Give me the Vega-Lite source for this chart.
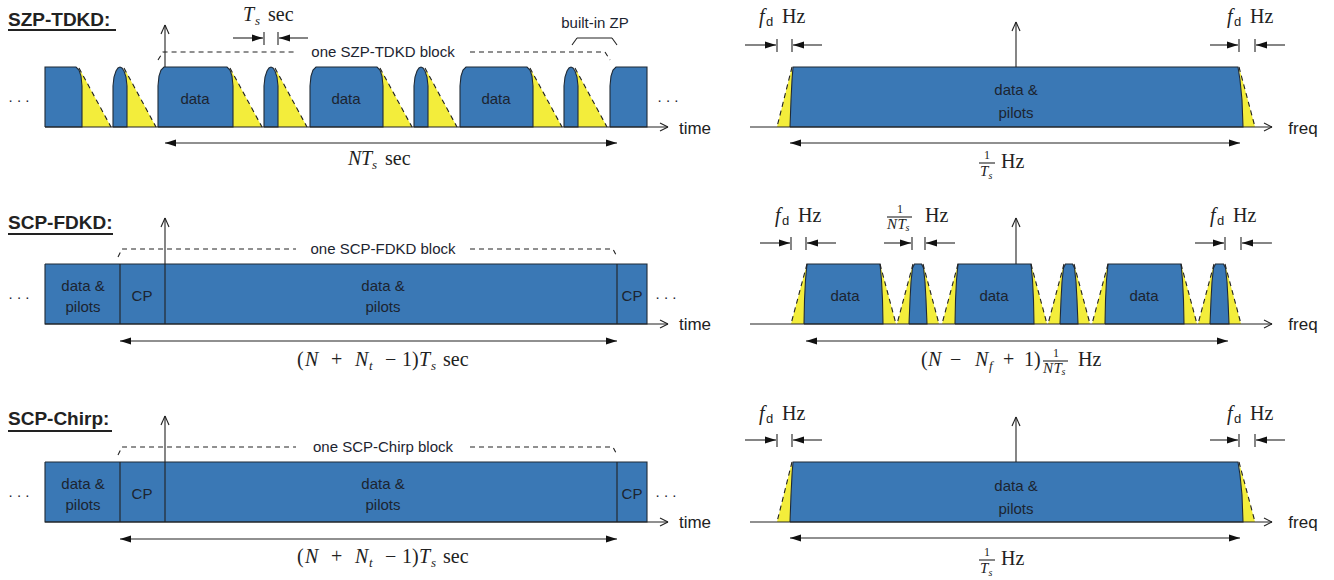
{
"$schema":"https://vega.github.io/schema/vega-lite/v6.json",
"width":1334,"height":580,"padding":0,
"autosize":{"type":"fit","contains":"padding"},
"background":"#ffffff",
"config":{"view":{"stroke":null}},
"datasets":{
"yel":[
{"id":"p1a","o":1,"x":79,"y":68},{"id":"p1a","o":2,"x":111,"y":127},{"id":"p1a","o":3,"x":82,"y":127},{"id":"p1a","o":4,"x":82,"y":86},{"id":"p1a","o":5,"x":81,"y":76},
{"id":"p1b","o":1,"x":124,"y":68},{"id":"p1b","o":2,"x":156,"y":127},{"id":"p1b","o":3,"x":127,"y":127},{"id":"p1b","o":4,"x":127,"y":86},{"id":"p1b","o":5,"x":126,"y":77},
{"id":"p1c","o":1,"x":230,"y":68},{"id":"p1c","o":2,"x":262,"y":127},{"id":"p1c","o":3,"x":233,"y":127},{"id":"p1c","o":4,"x":233,"y":86},{"id":"p1c","o":5,"x":232,"y":76},
{"id":"p1d","o":1,"x":275,"y":68},{"id":"p1d","o":2,"x":307,"y":127},{"id":"p1d","o":3,"x":278,"y":127},{"id":"p1d","o":4,"x":278,"y":86},{"id":"p1d","o":5,"x":277,"y":77},
{"id":"p1e","o":1,"x":380,"y":68},{"id":"p1e","o":2,"x":412,"y":127},{"id":"p1e","o":3,"x":383,"y":127},{"id":"p1e","o":4,"x":383,"y":86},{"id":"p1e","o":5,"x":382,"y":76},
{"id":"p1f","o":1,"x":425,"y":68},{"id":"p1f","o":2,"x":457,"y":127},{"id":"p1f","o":3,"x":428,"y":127},{"id":"p1f","o":4,"x":428,"y":86},{"id":"p1f","o":5,"x":427,"y":77},
{"id":"p1g","o":1,"x":530,"y":68},{"id":"p1g","o":2,"x":562,"y":127},{"id":"p1g","o":3,"x":533,"y":127},{"id":"p1g","o":4,"x":533,"y":86},{"id":"p1g","o":5,"x":532,"y":76},
{"id":"p1h","o":1,"x":575,"y":68},{"id":"p1h","o":2,"x":607,"y":127},{"id":"p1h","o":3,"x":578,"y":127},{"id":"p1h","o":4,"x":578,"y":86},{"id":"p1h","o":5,"x":577,"y":77},
{"id":"p2a","o":1,"x":792,"y":67},{"id":"p2a","o":2,"x":777,"y":127},{"id":"p2a","o":3,"x":790,"y":127},{"id":"p2a","o":4,"x":791,"y":100},{"id":"p2a","o":5,"x":792,"y":80},
{"id":"p2b","o":1,"x":1239,"y":67},{"id":"p2b","o":2,"x":1255,"y":127},{"id":"p2b","o":3,"x":1243,"y":127},{"id":"p2b","o":4,"x":1242,"y":100},{"id":"p2b","o":5,"x":1240,"y":80},
{"id":"p6a","o":1,"x":792,"y":462},{"id":"p6a","o":2,"x":777,"y":522},{"id":"p6a","o":3,"x":790,"y":522},{"id":"p6a","o":4,"x":791,"y":495},{"id":"p6a","o":5,"x":792,"y":475},
{"id":"p6b","o":1,"x":1239,"y":462},{"id":"p6b","o":2,"x":1255,"y":522},{"id":"p6b","o":3,"x":1243,"y":522},{"id":"p6b","o":4,"x":1242,"y":495},{"id":"p6b","o":5,"x":1240,"y":475},
{"id":"AL","o":1,"x":807,"y":264},{"id":"AL","o":2,"x":791,"y":324},{"id":"AL","o":3,"x":804,"y":324},{"id":"AL","o":4,"x":804.5,"y":300},{"id":"AL","o":5,"x":805.5,"y":280},
{"id":"AR","o":1,"x":880,"y":264},{"id":"AR","o":2,"x":896,"y":324},{"id":"AR","o":3,"x":883,"y":324},{"id":"AR","o":4,"x":882.5,"y":300},{"id":"AR","o":5,"x":881.5,"y":280},
{"id":"BL","o":1,"x":913,"y":264},{"id":"BL","o":2,"x":897,"y":324},{"id":"BL","o":3,"x":909,"y":324},{"id":"BL","o":4,"x":910,"y":300},{"id":"BL","o":5,"x":911,"y":282},
{"id":"BR","o":1,"x":923,"y":264},{"id":"BR","o":2,"x":939,"y":324},{"id":"BR","o":3,"x":927,"y":324},{"id":"BR","o":4,"x":926,"y":300},{"id":"BR","o":5,"x":925,"y":282},
{"id":"CL","o":1,"x":958,"y":264},{"id":"CL","o":2,"x":942,"y":324},{"id":"CL","o":3,"x":955,"y":324},{"id":"CL","o":4,"x":955.5,"y":300},{"id":"CL","o":5,"x":956.5,"y":280},
{"id":"CR","o":1,"x":1031,"y":264},{"id":"CR","o":2,"x":1047,"y":324},{"id":"CR","o":3,"x":1034,"y":324},{"id":"CR","o":4,"x":1033.5,"y":300},{"id":"CR","o":5,"x":1032.5,"y":280},
{"id":"DL","o":1,"x":1064,"y":264},{"id":"DL","o":2,"x":1048,"y":324},{"id":"DL","o":3,"x":1060,"y":324},{"id":"DL","o":4,"x":1061,"y":300},{"id":"DL","o":5,"x":1062,"y":282},
{"id":"DR","o":1,"x":1074,"y":264},{"id":"DR","o":2,"x":1090,"y":324},{"id":"DR","o":3,"x":1078,"y":324},{"id":"DR","o":4,"x":1077,"y":300},{"id":"DR","o":5,"x":1076,"y":282},
{"id":"EL","o":1,"x":1108,"y":264},{"id":"EL","o":2,"x":1092,"y":324},{"id":"EL","o":3,"x":1105,"y":324},{"id":"EL","o":4,"x":1105.5,"y":300},{"id":"EL","o":5,"x":1106.5,"y":280},
{"id":"ER","o":1,"x":1181,"y":264},{"id":"ER","o":2,"x":1197,"y":324},{"id":"ER","o":3,"x":1184,"y":324},{"id":"ER","o":4,"x":1183.5,"y":300},{"id":"ER","o":5,"x":1182.5,"y":280},
{"id":"FL","o":1,"x":1214,"y":264},{"id":"FL","o":2,"x":1198,"y":324},{"id":"FL","o":3,"x":1210,"y":324},{"id":"FL","o":4,"x":1211,"y":300},{"id":"FL","o":5,"x":1212,"y":282},
{"id":"FR","o":1,"x":1225,"y":264},{"id":"FR","o":2,"x":1241,"y":324},{"id":"FR","o":3,"x":1229,"y":324},{"id":"FR","o":4,"x":1228,"y":300},{"id":"FR","o":5,"x":1227,"y":282}
],
"blu":[
{"id":"b0","o":1,"x":45,"y":127},{"id":"b0","o":2,"x":45,"y":67},{"id":"b0","o":3,"x":76,"y":67},{"id":"b0","o":4,"x":79,"y":70},{"id":"b0","o":5,"x":81,"y":76},{"id":"b0","o":6,"x":82,"y":86},{"id":"b0","o":7,"x":82,"y":127},{"id":"b0","o":8,"x":45,"y":127},
{"id":"b1","o":1,"x":113,"y":127},{"id":"b1","o":2,"x":113,"y":86},{"id":"b1","o":3,"x":114,"y":77},{"id":"b1","o":4,"x":116,"y":71},{"id":"b1","o":5,"x":118,"y":68},{"id":"b1","o":6,"x":120,"y":67},{"id":"b1","o":7,"x":122,"y":68},{"id":"b1","o":8,"x":124,"y":71},{"id":"b1","o":9,"x":126,"y":77},{"id":"b1","o":10,"x":127,"y":86},{"id":"b1","o":11,"x":127,"y":127},{"id":"b1","o":12,"x":113,"y":127},
{"id":"b2","o":1,"x":158,"y":127},{"id":"b2","o":2,"x":158,"y":86},{"id":"b2","o":3,"x":159,"y":76},{"id":"b2","o":4,"x":161,"y":70},{"id":"b2","o":5,"x":164,"y":67},{"id":"b2","o":6,"x":227,"y":67},{"id":"b2","o":7,"x":230,"y":70},{"id":"b2","o":8,"x":232,"y":76},{"id":"b2","o":9,"x":233,"y":86},{"id":"b2","o":10,"x":233,"y":127},{"id":"b2","o":11,"x":158,"y":127},
{"id":"b3","o":1,"x":264,"y":127},{"id":"b3","o":2,"x":264,"y":86},{"id":"b3","o":3,"x":265,"y":77},{"id":"b3","o":4,"x":267,"y":71},{"id":"b3","o":5,"x":269,"y":68},{"id":"b3","o":6,"x":271,"y":67},{"id":"b3","o":7,"x":273,"y":68},{"id":"b3","o":8,"x":275,"y":71},{"id":"b3","o":9,"x":277,"y":77},{"id":"b3","o":10,"x":278,"y":86},{"id":"b3","o":11,"x":278,"y":127},{"id":"b3","o":12,"x":264,"y":127},
{"id":"b4","o":1,"x":310,"y":127},{"id":"b4","o":2,"x":310,"y":86},{"id":"b4","o":3,"x":311,"y":76},{"id":"b4","o":4,"x":313,"y":70},{"id":"b4","o":5,"x":316,"y":67},{"id":"b4","o":6,"x":377,"y":67},{"id":"b4","o":7,"x":380,"y":70},{"id":"b4","o":8,"x":382,"y":76},{"id":"b4","o":9,"x":383,"y":86},{"id":"b4","o":10,"x":383,"y":127},{"id":"b4","o":11,"x":310,"y":127},
{"id":"b5","o":1,"x":414,"y":127},{"id":"b5","o":2,"x":414,"y":86},{"id":"b5","o":3,"x":415,"y":77},{"id":"b5","o":4,"x":417,"y":71},{"id":"b5","o":5,"x":419,"y":68},{"id":"b5","o":6,"x":421,"y":67},{"id":"b5","o":7,"x":423,"y":68},{"id":"b5","o":8,"x":425,"y":71},{"id":"b5","o":9,"x":427,"y":77},{"id":"b5","o":10,"x":428,"y":86},{"id":"b5","o":11,"x":428,"y":127},{"id":"b5","o":12,"x":414,"y":127},
{"id":"b6","o":1,"x":460,"y":127},{"id":"b6","o":2,"x":460,"y":86},{"id":"b6","o":3,"x":461,"y":76},{"id":"b6","o":4,"x":463,"y":70},{"id":"b6","o":5,"x":466,"y":67},{"id":"b6","o":6,"x":527,"y":67},{"id":"b6","o":7,"x":530,"y":70},{"id":"b6","o":8,"x":532,"y":76},{"id":"b6","o":9,"x":533,"y":86},{"id":"b6","o":10,"x":533,"y":127},{"id":"b6","o":11,"x":460,"y":127},
{"id":"b7","o":1,"x":564,"y":127},{"id":"b7","o":2,"x":564,"y":86},{"id":"b7","o":3,"x":565,"y":77},{"id":"b7","o":4,"x":567,"y":71},{"id":"b7","o":5,"x":569,"y":68},{"id":"b7","o":6,"x":571,"y":67},{"id":"b7","o":7,"x":573,"y":68},{"id":"b7","o":8,"x":575,"y":71},{"id":"b7","o":9,"x":577,"y":77},{"id":"b7","o":10,"x":578,"y":86},{"id":"b7","o":11,"x":578,"y":127},{"id":"b7","o":12,"x":564,"y":127},
{"id":"b8","o":1,"x":610,"y":127},{"id":"b8","o":2,"x":610,"y":86},{"id":"b8","o":3,"x":611,"y":76},{"id":"b8","o":4,"x":613,"y":70},{"id":"b8","o":5,"x":616,"y":67},{"id":"b8","o":6,"x":647,"y":67},{"id":"b8","o":7,"x":647,"y":127},{"id":"b8","o":8,"x":610,"y":127},
{"id":"c2","o":1,"x":790,"y":127},{"id":"c2","o":2,"x":791,"y":100},{"id":"c2","o":3,"x":792,"y":80},{"id":"c2","o":4,"x":793,"y":67},{"id":"c2","o":5,"x":1238,"y":67},{"id":"c2","o":6,"x":1240,"y":80},{"id":"c2","o":7,"x":1242,"y":100},{"id":"c2","o":8,"x":1243,"y":127},{"id":"c2","o":9,"x":790,"y":127},
{"id":"c6","o":1,"x":790,"y":522},{"id":"c6","o":2,"x":791,"y":495},{"id":"c6","o":3,"x":792,"y":475},{"id":"c6","o":4,"x":793,"y":462},{"id":"c6","o":5,"x":1238,"y":462},{"id":"c6","o":6,"x":1240,"y":475},{"id":"c6","o":7,"x":1242,"y":495},{"id":"c6","o":8,"x":1243,"y":522},{"id":"c6","o":9,"x":790,"y":522},
{"id":"r3","o":1,"x":45,"y":264},{"id":"r3","o":2,"x":647,"y":264},{"id":"r3","o":3,"x":647,"y":324},{"id":"r3","o":4,"x":45,"y":324},{"id":"r3","o":5,"x":45,"y":264},
{"id":"r5","o":1,"x":45,"y":462},{"id":"r5","o":2,"x":647,"y":462},{"id":"r5","o":3,"x":647,"y":522},{"id":"r5","o":4,"x":45,"y":522},{"id":"r5","o":5,"x":45,"y":462},
{"id":"A","o":1,"x":804,"y":324},{"id":"A","o":2,"x":804.5,"y":300},{"id":"A","o":3,"x":805.5,"y":280},{"id":"A","o":4,"x":807,"y":264},{"id":"A","o":5,"x":880,"y":264},{"id":"A","o":6,"x":881.5,"y":280},{"id":"A","o":7,"x":882.5,"y":300},{"id":"A","o":8,"x":883,"y":324},{"id":"A","o":9,"x":804,"y":324},
{"id":"B","o":1,"x":909,"y":324},{"id":"B","o":2,"x":910,"y":300},{"id":"B","o":3,"x":911,"y":282},{"id":"B","o":4,"x":912.5,"y":268},{"id":"B","o":5,"x":914.5,"y":264},{"id":"B","o":6,"x":921.5,"y":264},{"id":"B","o":7,"x":923.5,"y":268},{"id":"B","o":8,"x":925,"y":282},{"id":"B","o":9,"x":926,"y":300},{"id":"B","o":10,"x":927,"y":324},{"id":"B","o":11,"x":909,"y":324},
{"id":"C","o":1,"x":955,"y":324},{"id":"C","o":2,"x":955.5,"y":300},{"id":"C","o":3,"x":956.5,"y":280},{"id":"C","o":4,"x":958,"y":264},{"id":"C","o":5,"x":1031,"y":264},{"id":"C","o":6,"x":1032.5,"y":280},{"id":"C","o":7,"x":1033.5,"y":300},{"id":"C","o":8,"x":1034,"y":324},{"id":"C","o":9,"x":955,"y":324},
{"id":"D","o":1,"x":1060,"y":324},{"id":"D","o":2,"x":1061,"y":300},{"id":"D","o":3,"x":1062,"y":282},{"id":"D","o":4,"x":1063.5,"y":268},{"id":"D","o":5,"x":1065.5,"y":264},{"id":"D","o":6,"x":1072.5,"y":264},{"id":"D","o":7,"x":1074.5,"y":268},{"id":"D","o":8,"x":1076,"y":282},{"id":"D","o":9,"x":1077,"y":300},{"id":"D","o":10,"x":1078,"y":324},{"id":"D","o":11,"x":1060,"y":324},
{"id":"E","o":1,"x":1105,"y":324},{"id":"E","o":2,"x":1105.5,"y":300},{"id":"E","o":3,"x":1106.5,"y":280},{"id":"E","o":4,"x":1108,"y":264},{"id":"E","o":5,"x":1181,"y":264},{"id":"E","o":6,"x":1182.5,"y":280},{"id":"E","o":7,"x":1183.5,"y":300},{"id":"E","o":8,"x":1184,"y":324},{"id":"E","o":9,"x":1105,"y":324},
{"id":"F","o":1,"x":1210,"y":324},{"id":"F","o":2,"x":1211,"y":300},{"id":"F","o":3,"x":1212,"y":282},{"id":"F","o":4,"x":1213.5,"y":268},{"id":"F","o":5,"x":1215.5,"y":264},{"id":"F","o":6,"x":1223.5,"y":264},{"id":"F","o":7,"x":1225.5,"y":268},{"id":"F","o":8,"x":1227,"y":282},{"id":"F","o":9,"x":1228,"y":300},{"id":"F","o":10,"x":1229,"y":324},{"id":"F","o":11,"x":1210,"y":324}
],
"dash":[
{"id":"t1l","o":1,"x":158,"y":60},{"id":"t1l","o":2,"x":163,"y":52},{"id":"t1l","o":3,"x":296,"y":52},
{"id":"t1r","o":1,"x":470,"y":52},{"id":"t1r","o":2,"x":605,"y":52},{"id":"t1r","o":3,"x":610,"y":60},
{"id":"t3l","o":1,"x":118,"y":257},{"id":"t3l","o":2,"x":122,"y":249},{"id":"t3l","o":3,"x":296,"y":249},
{"id":"t3r","o":1,"x":470,"y":249},{"id":"t3r","o":2,"x":613,"y":249},{"id":"t3r","o":3,"x":617,"y":257},
{"id":"t5l","o":1,"x":118,"y":455},{"id":"t5l","o":2,"x":122,"y":447},{"id":"t5l","o":3,"x":296,"y":447},
{"id":"t5r","o":1,"x":470,"y":447},{"id":"t5r","o":2,"x":613,"y":447},{"id":"t5r","o":3,"x":617,"y":455},
{"id":"s1","o":1,"x":79,"y":68},{"id":"s1","o":2,"x":111,"y":127},
{"id":"s2","o":1,"x":124,"y":68},{"id":"s2","o":2,"x":156,"y":127},
{"id":"s3","o":1,"x":230,"y":68},{"id":"s3","o":2,"x":262,"y":127},
{"id":"s4","o":1,"x":275,"y":68},{"id":"s4","o":2,"x":307,"y":127},
{"id":"s5","o":1,"x":380,"y":68},{"id":"s5","o":2,"x":412,"y":127},
{"id":"s6","o":1,"x":425,"y":68},{"id":"s6","o":2,"x":457,"y":127},
{"id":"s7","o":1,"x":530,"y":68},{"id":"s7","o":2,"x":562,"y":127},
{"id":"s8","o":1,"x":575,"y":68},{"id":"s8","o":2,"x":607,"y":127},
{"id":"q1","o":1,"x":792,"y":67},{"id":"q1","o":2,"x":777,"y":127},
{"id":"q2","o":1,"x":1239,"y":67},{"id":"q2","o":2,"x":1255,"y":127},
{"id":"q3","o":1,"x":792,"y":462},{"id":"q3","o":2,"x":777,"y":522},
{"id":"q4","o":1,"x":1239,"y":462},{"id":"q4","o":2,"x":1255,"y":522},
{"id":"u1","o":1,"x":807,"y":264},{"id":"u1","o":2,"x":791,"y":324},
{"id":"u2","o":1,"x":880,"y":264},{"id":"u2","o":2,"x":896,"y":324},
{"id":"u3","o":1,"x":913,"y":264},{"id":"u3","o":2,"x":897,"y":324},
{"id":"u4","o":1,"x":923,"y":264},{"id":"u4","o":2,"x":939,"y":324},
{"id":"u5","o":1,"x":958,"y":264},{"id":"u5","o":2,"x":942,"y":324},
{"id":"u6","o":1,"x":1031,"y":264},{"id":"u6","o":2,"x":1047,"y":324},
{"id":"u7","o":1,"x":1064,"y":264},{"id":"u7","o":2,"x":1048,"y":324},
{"id":"u8","o":1,"x":1074,"y":264},{"id":"u8","o":2,"x":1090,"y":324},
{"id":"u9","o":1,"x":1108,"y":264},{"id":"u9","o":2,"x":1092,"y":324},
{"id":"u10","o":1,"x":1181,"y":264},{"id":"u10","o":2,"x":1197,"y":324},
{"id":"u11","o":1,"x":1214,"y":264},{"id":"u11","o":2,"x":1198,"y":324},
{"id":"u12","o":1,"x":1225,"y":264},{"id":"u12","o":2,"x":1241,"y":324}
],
"seg":[
{"x":45,"y":127,"x2":668,"y2":127},{"x":660,"y":123,"x2":668,"y2":127},{"x":660,"y":131,"x2":668,"y2":127},
{"x":165,"y":67,"x2":165,"y2":25},{"x":161,"y":34,"x2":165,"y2":25},{"x":169,"y":34,"x2":165,"y2":25},
{"x":233,"y":38,"x2":263,"y2":38},{"x":264,"y":32,"x2":264,"y2":45},{"x":278,"y":32,"x2":278,"y2":45},{"x":279,"y":38,"x2":308,"y2":38},
{"x":165,"y":143,"x2":617,"y2":143},
{"x":572,"y":45,"x2":577,"y2":38},{"x":577,"y":38,"x2":612,"y2":38},{"x":612,"y":38,"x2":617,"y2":45},
{"x":750,"y":127,"x2":1272,"y2":127},{"x":1264,"y":123,"x2":1272,"y2":127},{"x":1264,"y":131,"x2":1272,"y2":127},
{"x":1016,"y":67,"x2":1016,"y2":22},{"x":1012,"y":31,"x2":1016,"y2":22},{"x":1020,"y":31,"x2":1016,"y2":22},
{"x":745,"y":45,"x2":776,"y2":45},{"x":777,"y":39,"x2":777,"y2":52},{"x":792,"y":39,"x2":792,"y2":52},{"x":793,"y":45,"x2":822,"y2":45},
{"x":1210,"y":45,"x2":1238,"y2":45},{"x":1239,"y":39,"x2":1239,"y2":52},{"x":1255,"y":39,"x2":1255,"y2":52},{"x":1256,"y":45,"x2":1285,"y2":45},
{"x":790,"y":143,"x2":1240,"y2":143},
{"x":979,"y":163,"x2":995,"y2":163},
{"x":120,"y":264,"x2":120,"y2":324},{"x":617,"y":264,"x2":617,"y2":324},
{"x":165,"y":324,"x2":165,"y2":218},{"x":161,"y":227,"x2":165,"y2":218},{"x":169,"y":227,"x2":165,"y2":218},
{"x":45,"y":324,"x2":668,"y2":324},{"x":660,"y":320,"x2":668,"y2":324},{"x":660,"y":328,"x2":668,"y2":324},
{"x":120,"y":341,"x2":617,"y2":341},
{"x":750,"y":324,"x2":1272,"y2":324},{"x":1264,"y":320,"x2":1272,"y2":324},{"x":1264,"y":328,"x2":1272,"y2":324},
{"x":1016,"y":264,"x2":1016,"y2":218},{"x":1012,"y":227,"x2":1016,"y2":218},{"x":1020,"y":227,"x2":1016,"y2":218},
{"x":760,"y":243,"x2":790,"y2":243},{"x":791,"y":237,"x2":791,"y2":250},{"x":806,"y":237,"x2":806,"y2":250},{"x":807,"y":243,"x2":836,"y2":243},
{"x":884,"y":243,"x2":911,"y2":243},{"x":912,"y":237,"x2":912,"y2":250},{"x":925,"y":237,"x2":925,"y2":250},{"x":926,"y":243,"x2":955,"y2":243},
{"x":1195,"y":243,"x2":1224,"y2":243},{"x":1225,"y":237,"x2":1225,"y2":250},{"x":1241,"y":237,"x2":1241,"y2":250},{"x":1242,"y":243,"x2":1272,"y2":243},
{"x":806,"y":341,"x2":1228,"y2":341},
{"x":887,"y":217,"x2":912,"y2":217},
{"x":1043,"y":361,"x2":1068,"y2":361},
{"x":120,"y":462,"x2":120,"y2":522},{"x":617,"y":462,"x2":617,"y2":522},
{"x":165,"y":522,"x2":165,"y2":416},{"x":161,"y":425,"x2":165,"y2":416},{"x":169,"y":425,"x2":165,"y2":416},
{"x":45,"y":522,"x2":668,"y2":522},{"x":660,"y":518,"x2":668,"y2":522},{"x":660,"y":526,"x2":668,"y2":522},
{"x":120,"y":539,"x2":617,"y2":539},
{"x":750,"y":522,"x2":1272,"y2":522},{"x":1264,"y":518,"x2":1272,"y2":522},{"x":1264,"y":526,"x2":1272,"y2":522},
{"x":1016,"y":462,"x2":1016,"y2":417},{"x":1012,"y":426,"x2":1016,"y2":417},{"x":1020,"y":426,"x2":1016,"y2":417},
{"x":745,"y":440,"x2":776,"y2":440},{"x":777,"y":434,"x2":777,"y2":447},{"x":792,"y":434,"x2":792,"y2":447},{"x":793,"y":440,"x2":822,"y2":440},
{"x":1210,"y":440,"x2":1238,"y2":440},{"x":1239,"y":434,"x2":1239,"y2":447},{"x":1255,"y":434,"x2":1255,"y2":447},{"x":1256,"y":440,"x2":1285,"y2":440},
{"x":790,"y":538,"x2":1240,"y2":538},
{"x":979,"y":560,"x2":995,"y2":560}
],
"uline":[
{"x":8,"y":30,"x2":116,"y2":30},{"x":8,"y":234,"x2":113,"y2":234},{"x":8,"y":431,"x2":112,"y2":431}
],
"head":[
{"id":"h1","o":1,"x":252,"y":34.5},{"id":"h1","o":2,"x":263,"y":38},{"id":"h1","o":3,"x":252,"y":41.5},
{"id":"h2","o":1,"x":290,"y":34.5},{"id":"h2","o":2,"x":279,"y":38},{"id":"h2","o":3,"x":290,"y":41.5},
{"id":"h3","o":1,"x":176,"y":139.5},{"id":"h3","o":2,"x":165,"y":143},{"id":"h3","o":3,"x":176,"y":146.5},
{"id":"h4","o":1,"x":606,"y":139.5},{"id":"h4","o":2,"x":617,"y":143},{"id":"h4","o":3,"x":606,"y":146.5},
{"id":"h5","o":1,"x":765,"y":41.5},{"id":"h5","o":2,"x":776,"y":45},{"id":"h5","o":3,"x":765,"y":48.5},
{"id":"h6","o":1,"x":804,"y":41.5},{"id":"h6","o":2,"x":793,"y":45},{"id":"h6","o":3,"x":804,"y":48.5},
{"id":"h7","o":1,"x":1227,"y":41.5},{"id":"h7","o":2,"x":1238,"y":45},{"id":"h7","o":3,"x":1227,"y":48.5},
{"id":"h8","o":1,"x":1267,"y":41.5},{"id":"h8","o":2,"x":1256,"y":45},{"id":"h8","o":3,"x":1267,"y":48.5},
{"id":"h9","o":1,"x":801,"y":139.5},{"id":"h9","o":2,"x":790,"y":143},{"id":"h9","o":3,"x":801,"y":146.5},
{"id":"h10","o":1,"x":1229,"y":139.5},{"id":"h10","o":2,"x":1240,"y":143},{"id":"h10","o":3,"x":1229,"y":146.5},
{"id":"h11","o":1,"x":131,"y":337.5},{"id":"h11","o":2,"x":120,"y":341},{"id":"h11","o":3,"x":131,"y":344.5},
{"id":"h12","o":1,"x":606,"y":337.5},{"id":"h12","o":2,"x":617,"y":341},{"id":"h12","o":3,"x":606,"y":344.5},
{"id":"h13","o":1,"x":779,"y":239.5},{"id":"h13","o":2,"x":790,"y":243},{"id":"h13","o":3,"x":779,"y":246.5},
{"id":"h14","o":1,"x":818,"y":239.5},{"id":"h14","o":2,"x":807,"y":243},{"id":"h14","o":3,"x":818,"y":246.5},
{"id":"h15","o":1,"x":900,"y":239.5},{"id":"h15","o":2,"x":911,"y":243},{"id":"h15","o":3,"x":900,"y":246.5},
{"id":"h16","o":1,"x":937,"y":239.5},{"id":"h16","o":2,"x":926,"y":243},{"id":"h16","o":3,"x":937,"y":246.5},
{"id":"h17","o":1,"x":1213,"y":239.5},{"id":"h17","o":2,"x":1224,"y":243},{"id":"h17","o":3,"x":1213,"y":246.5},
{"id":"h18","o":1,"x":1253,"y":239.5},{"id":"h18","o":2,"x":1242,"y":243},{"id":"h18","o":3,"x":1253,"y":246.5},
{"id":"h19","o":1,"x":817,"y":337.5},{"id":"h19","o":2,"x":806,"y":341},{"id":"h19","o":3,"x":817,"y":344.5},
{"id":"h20","o":1,"x":1217,"y":337.5},{"id":"h20","o":2,"x":1228,"y":341},{"id":"h20","o":3,"x":1217,"y":344.5},
{"id":"h21","o":1,"x":131,"y":535.5},{"id":"h21","o":2,"x":120,"y":539},{"id":"h21","o":3,"x":131,"y":542.5},
{"id":"h22","o":1,"x":606,"y":535.5},{"id":"h22","o":2,"x":617,"y":539},{"id":"h22","o":3,"x":606,"y":542.5},
{"id":"h23","o":1,"x":765,"y":436.5},{"id":"h23","o":2,"x":776,"y":440},{"id":"h23","o":3,"x":765,"y":443.5},
{"id":"h24","o":1,"x":804,"y":436.5},{"id":"h24","o":2,"x":793,"y":440},{"id":"h24","o":3,"x":804,"y":443.5},
{"id":"h25","o":1,"x":1227,"y":436.5},{"id":"h25","o":2,"x":1238,"y":440},{"id":"h25","o":3,"x":1227,"y":443.5},
{"id":"h26","o":1,"x":1267,"y":436.5},{"id":"h26","o":2,"x":1256,"y":440},{"id":"h26","o":3,"x":1267,"y":443.5},
{"id":"h27","o":1,"x":801,"y":534.5},{"id":"h27","o":2,"x":790,"y":538},{"id":"h27","o":3,"x":801,"y":541.5},
{"id":"h28","o":1,"x":1229,"y":534.5},{"id":"h28","o":2,"x":1240,"y":538},{"id":"h28","o":3,"x":1229,"y":541.5}
],
"sans":[
{"x":195,"y":104,"t":"data","r":"lab"},{"x":346,"y":104,"t":"data","r":"lab"},{"x":496,"y":104,"t":"data","r":"lab"},
{"x":19,"y":102,"t":". . .","r":"lab"},{"x":668,"y":102,"t":". . .","r":"lab"},
{"x":383,"y":57,"t":"one SZP-TDKD block","r":"lab"},{"x":595,"y":28,"t":"built-in ZP","r":"lab"},
{"x":695,"y":134,"t":"time","r":"big"},
{"x":1016,"y":95,"t":"data &","r":"lab"},{"x":1016,"y":118,"t":"pilots","r":"lab"},{"x":1303,"y":134,"t":"freq","r":"big"},
{"x":83,"y":291,"t":"data &","r":"lab"},{"x":83,"y":312,"t":"pilots","r":"lab"},{"x":142,"y":301,"t":"CP","r":"lab"},
{"x":383,"y":291,"t":"data &","r":"lab"},{"x":383,"y":312,"t":"pilots","r":"lab"},{"x":632,"y":301,"t":"CP","r":"lab"},
{"x":19,"y":299,"t":". . .","r":"lab"},{"x":666,"y":299,"t":". . .","r":"lab"},
{"x":383,"y":254,"t":"one SCP-FDKD block","r":"lab"},{"x":695,"y":330,"t":"time","r":"big"},
{"x":845,"y":301,"t":"data","r":"lab"},{"x":994,"y":301,"t":"data","r":"lab"},{"x":1144,"y":301,"t":"data","r":"lab"},{"x":1303,"y":330,"t":"freq","r":"big"},
{"x":83,"y":489,"t":"data &","r":"lab"},{"x":83,"y":510,"t":"pilots","r":"lab"},{"x":142,"y":499,"t":"CP","r":"lab"},
{"x":383,"y":489,"t":"data &","r":"lab"},{"x":383,"y":510,"t":"pilots","r":"lab"},{"x":632,"y":499,"t":"CP","r":"lab"},
{"x":19,"y":497,"t":". . .","r":"lab"},{"x":666,"y":497,"t":". . .","r":"lab"},
{"x":383,"y":452,"t":"one SCP-Chirp block","r":"lab"},{"x":695,"y":528,"t":"time","r":"big"},
{"x":1016,"y":491,"t":"data &","r":"lab"},{"x":1016,"y":514,"t":"pilots","r":"lab"},{"x":1303,"y":528,"t":"freq","r":"big"}
],
"titles":[
{"x":8,"y":26,"t":"SZP-TDKD:"},{"x":8,"y":229,"t":"SCP-FDKD:"},{"x":8,"y":425,"t":"SCP-Chirp:"}
],
"sub":[
{"x":766,"y":26,"t":"d"},{"x":1234,"y":26,"t":"d"},{"x":782,"y":225,"t":"d"},{"x":1217,"y":225,"t":"d"},{"x":766,"y":423,"t":"d"},{"x":1234,"y":423,"t":"d"}
],
"ital":[
{"x":243,"y":21,"t":"T","r":"m"},{"x":255,"y":25,"t":"s","r":"s"},
{"x":348,"y":165,"t":"N","r":"m"},{"x":361,"y":165,"t":"T","r":"m"},{"x":372,"y":169,"t":"s","r":"s"},
{"x":759,"y":23,"t":"f","r":"m"},{"x":1227,"y":23,"t":"f","r":"m"},{"x":980,"y":176,"t":"T","r":"f"},{"x":988.5,"y":179,"t":"s","r":"fs"},
{"x":305,"y":366,"t":"N","r":"m"},{"x":355,"y":366,"t":"N","r":"m"},{"x":369,"y":370,"t":"t","r":"s"},{"x":419,"y":366,"t":"T","r":"m"},{"x":431,"y":370,"t":"s","r":"s"},
{"x":775,"y":222,"t":"f","r":"m"},{"x":1210,"y":222,"t":"f","r":"m"},
{"x":887,"y":229,"t":"N","r":"f"},{"x":897.5,"y":229,"t":"T","r":"f"},{"x":905.5,"y":231,"t":"s","r":"fs"},
{"x":928,"y":366,"t":"N","r":"m"},{"x":975,"y":366,"t":"N","r":"m"},{"x":989,"y":370,"t":"f","r":"s"},
{"x":1043,"y":373,"t":"N","r":"f"},{"x":1053.5,"y":373,"t":"T","r":"f"},{"x":1061.5,"y":375,"t":"s","r":"fs"},
{"x":305,"y":563,"t":"N","r":"m"},{"x":355,"y":563,"t":"N","r":"m"},{"x":369,"y":567,"t":"t","r":"s"},{"x":419,"y":563,"t":"T","r":"m"},{"x":431,"y":567,"t":"s","r":"s"},
{"x":759,"y":420,"t":"f","r":"m"},{"x":1227,"y":420,"t":"f","r":"m"},{"x":980,"y":573,"t":"T","r":"f"},{"x":988.5,"y":576,"t":"s","r":"fs"}
],
"roman":[
{"x":268,"y":21,"t":"sec","r":"m"},{"x":385,"y":165,"t":"sec","r":"m"},
{"x":782,"y":23,"t":"Hz","r":"m"},{"x":1250,"y":23,"t":"Hz","r":"m"},{"x":984,"y":159,"t":"1","r":"o"},{"x":1001,"y":168,"t":"Hz","r":"m"},
{"x":297,"y":366,"t":"(","r":"m"},{"x":331,"y":366,"t":"+","r":"m"},{"x":385,"y":366,"t":"−","r":"m"},{"x":402,"y":366,"t":"1)","r":"m"},{"x":443,"y":366,"t":"sec","r":"m"},
{"x":798,"y":222,"t":"Hz","r":"m"},{"x":1233,"y":222,"t":"Hz","r":"m"},{"x":897,"y":213,"t":"1","r":"o"},{"x":925,"y":222,"t":"Hz","r":"m"},
{"x":921,"y":366,"t":"(","r":"m"},{"x":950,"y":366,"t":"−","r":"m"},{"x":1003,"y":366,"t":"+","r":"m"},{"x":1024,"y":366,"t":"1)","r":"m"},{"x":1053,"y":357,"t":"1","r":"o"},{"x":1078,"y":366,"t":"Hz","r":"m"},
{"x":297,"y":563,"t":"(","r":"m"},{"x":331,"y":563,"t":"+","r":"m"},{"x":385,"y":563,"t":"−","r":"m"},{"x":402,"y":563,"t":"1)","r":"m"},{"x":443,"y":563,"t":"sec","r":"m"},
{"x":782,"y":420,"t":"Hz","r":"m"},{"x":1250,"y":420,"t":"Hz","r":"m"},{"x":984,"y":556,"t":"1","r":"o"},{"x":1001,"y":565,"t":"Hz","r":"m"}
]
},
"encoding":{
 "x":{"field":"x","type":"quantitative","scale":{"domain":[0,1334],"nice":false,"zero":false},"axis":null},
 "y":{"field":"y","type":"quantitative","scale":{"domain":[0,580],"reverse":true,"nice":false,"zero":false},"axis":null}
},
"layer":[
{"data":{"name":"yel"},"mark":{"type":"line","filled":true,"fill":"#f3ed3b","strokeWidth":0},
 "encoding":{"detail":{"field":"id"},"order":{"field":"o","type":"quantitative"}}},
{"data":{"name":"blu"},"mark":{"type":"line","filled":true,"fill":"#3a78b5","stroke":"#1f2a36","strokeWidth":1.1},
 "encoding":{"detail":{"field":"id"},"order":{"field":"o","type":"quantitative"}}},
{"data":{"name":"dash"},"mark":{"type":"line","stroke":"#222222","strokeWidth":1.1,"strokeDash":[5,4]},
 "encoding":{"detail":{"field":"id"},"order":{"field":"o","type":"quantitative"}}},
{"data":{"name":"seg"},"mark":{"type":"rule","color":"#222222","strokeWidth":1.1},
 "encoding":{"x2":{"field":"x2"},"y2":{"field":"y2"}}},
{"data":{"name":"uline"},"mark":{"type":"rule","color":"#222222","strokeWidth":2},
 "encoding":{"x2":{"field":"x2"},"y2":{"field":"y2"}}},
{"data":{"name":"head"},"mark":{"type":"line","filled":true,"fill":"#111111","strokeWidth":0},
 "encoding":{"detail":{"field":"id"},"order":{"field":"o","type":"quantitative"}}},
{"data":{"name":"sans"},"transform":[{"filter":"datum.r == 'lab'"}],
 "mark":{"type":"text","font":"Liberation Sans","fontSize":15,"align":"center","baseline":"alphabetic","color":"#1c2430"},
 "encoding":{"text":{"field":"t"}}},
{"data":{"name":"sans"},"transform":[{"filter":"datum.r == 'big'"}],
 "mark":{"type":"text","font":"Liberation Sans","fontSize":17,"align":"center","baseline":"alphabetic","color":"#222222"},
 "encoding":{"text":{"field":"t"}}},
{"data":{"name":"titles"},"mark":{"type":"text","font":"Liberation Sans","fontWeight":"bold","fontSize":19,"align":"left","baseline":"alphabetic","color":"#222222"},
 "encoding":{"text":{"field":"t"}}},
{"data":{"name":"sub"},"mark":{"type":"text","font":"Liberation Sans","fontSize":13,"align":"left","baseline":"alphabetic","color":"#222222"},
 "encoding":{"text":{"field":"t"}}},
{"data":{"name":"ital"},"transform":[{"filter":"datum.r == 'm'"}],
 "mark":{"type":"text","font":"Liberation Serif","fontStyle":"italic","fontSize":20,"align":"left","baseline":"alphabetic","color":"#222222"},
 "encoding":{"text":{"field":"t"}}},
{"data":{"name":"ital"},"transform":[{"filter":"datum.r == 's'"}],
 "mark":{"type":"text","font":"Liberation Serif","fontStyle":"italic","fontSize":13,"align":"left","baseline":"alphabetic","color":"#222222"},
 "encoding":{"text":{"field":"t"}}},
{"data":{"name":"ital"},"transform":[{"filter":"datum.r == 'f'"}],
 "mark":{"type":"text","font":"Liberation Serif","fontStyle":"italic","fontSize":15,"align":"left","baseline":"alphabetic","color":"#222222"},
 "encoding":{"text":{"field":"t"}}},
{"data":{"name":"ital"},"transform":[{"filter":"datum.r == 'fs'"}],
 "mark":{"type":"text","font":"Liberation Serif","fontStyle":"italic","fontSize":10,"align":"left","baseline":"alphabetic","color":"#222222"},
 "encoding":{"text":{"field":"t"}}},
{"data":{"name":"roman"},"transform":[{"filter":"datum.r == 'm'"}],
 "mark":{"type":"text","font":"Liberation Serif","fontSize":20,"align":"left","baseline":"alphabetic","color":"#222222"},
 "encoding":{"text":{"field":"t"}}},
{"data":{"name":"roman"},"transform":[{"filter":"datum.r == 'o'"}],
 "mark":{"type":"text","font":"Liberation Serif","fontSize":12,"align":"left","baseline":"alphabetic","color":"#222222"},
 "encoding":{"text":{"field":"t"}}}
]
}
